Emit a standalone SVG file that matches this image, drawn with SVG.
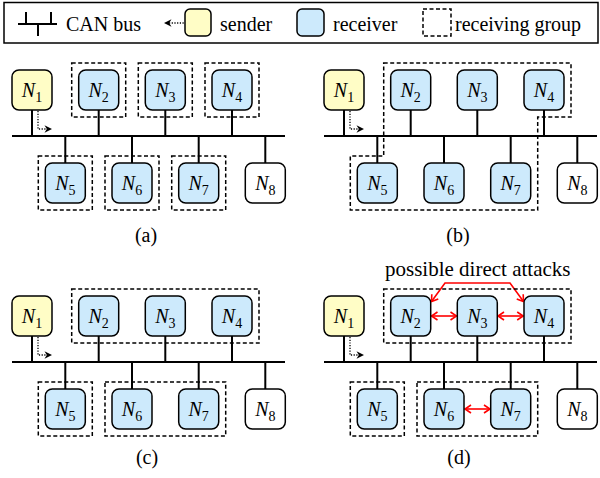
<svg xmlns="http://www.w3.org/2000/svg" width="600" height="478" viewBox="0 0 600 478">
<style>
  .lbl { font-size: 20px; }
  .nn { font-size: 20px; text-anchor: middle; }
  .nn .i { font-style: italic; }
  .nn .s { font-size: 14px; }
  .box { stroke: #000; stroke-width: 1.5; }
  .snd { fill: #FFFDC6; }
  .rcv { fill: #CDEAFC; }
  .oth { fill: #FFFFFF; }
  .grp { fill: none; stroke: #000; stroke-width: 1.5; stroke-dasharray: 4 2.5; }
  .bus { stroke: #000; stroke-width: 2; fill: none; }
  .dot { stroke: #000; stroke-width: 1.3; stroke-dasharray: 1.2 1.5; fill: none; }
  .atk { stroke: #FF0000; stroke-width: 1.6; fill: none; marker-start: url(#rh); marker-end: url(#rh); }
</style>
<defs>
  <marker id="rh" markerUnits="userSpaceOnUse" markerWidth="12" markerHeight="12" viewBox="-8 -6 10 12" refX="0" refY="0" orient="auto-start-reverse">
    <path d="M-6,-4 L0,0 L-6,4" fill="none" stroke="#FF0000" stroke-width="1.6"/>
  </marker>
  <g id="dotarrow">
    <polyline class="dot" points="38,111 38,129 47,129"/>
    <path d="M52,129 L44.5,125.2 L46.8,129 L44.5,132.8 Z" fill="#000"/>
  </g>
</defs>
<g font-family="Liberation Serif, Times New Roman, DejaVu Serif, serif" fill="#000">

<!-- Legend -->
<g id="legend">
  <rect x="4" y="2.5" width="594" height="40.5" fill="#fff" stroke="#000" stroke-width="1.5"/>
  <g class="bus" stroke-width="1.8">
    <line x1="18" y1="24" x2="57" y2="24"/>
    <line x1="26" y1="12" x2="26" y2="24"/>
    <line x1="51" y1="12" x2="51" y2="24"/>
    <line x1="38" y1="24" x2="38" y2="36"/>
  </g>
  <text class="lbl" x="66" y="30.5">CAN bus</text>
  <line class="dot" x1="169" y1="23" x2="184" y2="23"/>
  <path d="M164,23 L171.5,19.2 L169.2,23 L171.5,26.8 Z" fill="#000"/>
  <rect class="box snd" x="185" y="9" width="26" height="27" rx="5"/>
  <text class="lbl" x="220" y="30.5">sender</text>
  <rect class="box rcv" x="297" y="9" width="27" height="27" rx="5"/>
  <text class="lbl" x="333" y="30.5">receiver</text>
  <rect class="grp" x="423" y="9" width="28" height="27"/>
  <text class="lbl" x="455" y="30.5">receiving group</text>
</g>

<!-- Connectors: buses, stubs, sender arrows, attack arrows -->
<g id="connectors">
  <g id="bus-a" transform="translate(0,0)">
    <line class="bus" x1="12" y1="136" x2="285" y2="136"/>
    <line class="bus" x1="32" y1="110" x2="32" y2="136"/>
    <line class="bus" x1="98.7" y1="110" x2="98.7" y2="136"/>
    <line class="bus" x1="165.3" y1="110" x2="165.3" y2="136"/>
    <line class="bus" x1="232" y1="110" x2="232" y2="136"/>
    <line class="bus" x1="65.3" y1="136" x2="65.3" y2="163"/>
    <line class="bus" x1="132" y1="136" x2="132" y2="163"/>
    <line class="bus" x1="198.7" y1="136" x2="198.7" y2="163"/>
    <line class="bus" x1="265.3" y1="136" x2="265.3" y2="163"/>
    <use href="#dotarrow"/>
  </g>
  <g id="bus-b" transform="translate(312,0)">
    <line class="bus" x1="12" y1="136" x2="285" y2="136"/>
    <line class="bus" x1="32" y1="110" x2="32" y2="136"/>
    <line class="bus" x1="98.7" y1="110" x2="98.7" y2="136"/>
    <line class="bus" x1="165.3" y1="110" x2="165.3" y2="136"/>
    <line class="bus" x1="232" y1="110" x2="232" y2="136"/>
    <line class="bus" x1="65.3" y1="136" x2="65.3" y2="163"/>
    <line class="bus" x1="132" y1="136" x2="132" y2="163"/>
    <line class="bus" x1="198.7" y1="136" x2="198.7" y2="163"/>
    <line class="bus" x1="265.3" y1="136" x2="265.3" y2="163"/>
    <use href="#dotarrow"/>
  </g>
  <g id="bus-c" transform="translate(0,226)">
    <line class="bus" x1="12" y1="136" x2="285" y2="136"/>
    <line class="bus" x1="32" y1="110" x2="32" y2="136"/>
    <line class="bus" x1="98.7" y1="110" x2="98.7" y2="136"/>
    <line class="bus" x1="165.3" y1="110" x2="165.3" y2="136"/>
    <line class="bus" x1="232" y1="110" x2="232" y2="136"/>
    <line class="bus" x1="65.3" y1="136" x2="65.3" y2="163"/>
    <line class="bus" x1="132" y1="136" x2="132" y2="163"/>
    <line class="bus" x1="198.7" y1="136" x2="198.7" y2="163"/>
    <line class="bus" x1="265.3" y1="136" x2="265.3" y2="163"/>
    <use href="#dotarrow"/>
  </g>
  <g id="bus-d" transform="translate(312,226)">
    <line class="bus" x1="12" y1="136" x2="285" y2="136"/>
    <line class="bus" x1="32" y1="110" x2="32" y2="136"/>
    <line class="bus" x1="98.7" y1="110" x2="98.7" y2="136"/>
    <line class="bus" x1="165.3" y1="110" x2="165.3" y2="136"/>
    <line class="bus" x1="232" y1="110" x2="232" y2="136"/>
    <line class="bus" x1="65.3" y1="136" x2="65.3" y2="163"/>
    <line class="bus" x1="132" y1="136" x2="132" y2="163"/>
    <line class="bus" x1="198.7" y1="136" x2="198.7" y2="163"/>
    <line class="bus" x1="265.3" y1="136" x2="265.3" y2="163"/>
    <use href="#dotarrow"/>
  </g>
  <g id="attacks">
    <line class="atk" x1="431.5" y1="316" x2="456.5" y2="316"/>
    <line class="atk" x1="498" y1="316" x2="523.2" y2="316"/>
    <line class="atk" x1="465" y1="409" x2="490" y2="409"/>
    <polyline class="atk" points="431.5,301.5 445,283 510,283 523.5,301.5"/>
  </g>
</g>

<!-- Receiving groups -->
<g id="groups">
  <g id="groups-a">
    <rect class="grp" x="71.7" y="63" width="54" height="54"/>
    <rect class="grp" x="138.3" y="63" width="54" height="54"/>
    <rect class="grp" x="205" y="63" width="54" height="54"/>
    <rect class="grp" x="38.3" y="156" width="54" height="54"/>
    <rect class="grp" x="105" y="156" width="54" height="54"/>
    <rect class="grp" x="171.7" y="156" width="54" height="54"/>
  </g>
  <g id="groups-b">
    <polygon class="grp" points="383.7,63 571,63 571,117 537.7,117 537.7,210 350.3,210 350.3,156 383.7,156"/>
  </g>
  <g id="groups-c">
    <rect class="grp" x="71.7" y="289" width="187.3" height="54"/>
    <rect class="grp" x="38.3" y="382" width="54" height="54"/>
    <rect class="grp" x="105" y="382" width="120.7" height="54"/>
  </g>
  <g id="groups-d">
    <rect class="grp" x="383.7" y="289" width="187.3" height="54"/>
    <rect class="grp" x="350.3" y="382" width="54" height="54"/>
    <rect class="grp" x="417" y="382" width="120.7" height="54"/>
  </g>
</g>

<!-- Nodes: panel (a) -->
<g id="a-N1"><rect class="box snd" x="12" y="70" width="40" height="40" rx="7"/><text class="nn" x="32" y="97"><tspan class="i">N</tspan><tspan class="s" dy="4.5">1</tspan></text></g>
<g id="a-N2"><rect class="box rcv" x="78.7" y="70" width="40" height="40" rx="7"/><text class="nn" x="98.7" y="97"><tspan class="i">N</tspan><tspan class="s" dy="4.5">2</tspan></text></g>
<g id="a-N3"><rect class="box rcv" x="145.3" y="70" width="40" height="40" rx="7"/><text class="nn" x="165.3" y="97"><tspan class="i">N</tspan><tspan class="s" dy="4.5">3</tspan></text></g>
<g id="a-N4"><rect class="box rcv" x="212" y="70" width="40" height="40" rx="7"/><text class="nn" x="232" y="97"><tspan class="i">N</tspan><tspan class="s" dy="4.5">4</tspan></text></g>
<g id="a-N5"><rect class="box rcv" x="45.3" y="163" width="40" height="40" rx="7"/><text class="nn" x="65.3" y="190"><tspan class="i">N</tspan><tspan class="s" dy="4.5">5</tspan></text></g>
<g id="a-N6"><rect class="box rcv" x="112" y="163" width="40" height="40" rx="7"/><text class="nn" x="132" y="190"><tspan class="i">N</tspan><tspan class="s" dy="4.5">6</tspan></text></g>
<g id="a-N7"><rect class="box rcv" x="178.7" y="163" width="40" height="40" rx="7"/><text class="nn" x="198.7" y="190"><tspan class="i">N</tspan><tspan class="s" dy="4.5">7</tspan></text></g>
<g id="a-N8"><rect class="box oth" x="245.3" y="163" width="40" height="40" rx="7"/><text class="nn" x="265.3" y="190"><tspan class="i">N</tspan><tspan class="s" dy="4.5">8</tspan></text></g>

<!-- Nodes: panel (b) -->
<g id="b-N1"><rect class="box snd" x="324" y="70" width="40" height="40" rx="7"/><text class="nn" x="344" y="97"><tspan class="i">N</tspan><tspan class="s" dy="4.5">1</tspan></text></g>
<g id="b-N2"><rect class="box rcv" x="390.7" y="70" width="40" height="40" rx="7"/><text class="nn" x="410.7" y="97"><tspan class="i">N</tspan><tspan class="s" dy="4.5">2</tspan></text></g>
<g id="b-N3"><rect class="box rcv" x="457.3" y="70" width="40" height="40" rx="7"/><text class="nn" x="477.3" y="97"><tspan class="i">N</tspan><tspan class="s" dy="4.5">3</tspan></text></g>
<g id="b-N4"><rect class="box rcv" x="524" y="70" width="40" height="40" rx="7"/><text class="nn" x="544" y="97"><tspan class="i">N</tspan><tspan class="s" dy="4.5">4</tspan></text></g>
<g id="b-N5"><rect class="box rcv" x="357.3" y="163" width="40" height="40" rx="7"/><text class="nn" x="377.3" y="190"><tspan class="i">N</tspan><tspan class="s" dy="4.5">5</tspan></text></g>
<g id="b-N6"><rect class="box rcv" x="424" y="163" width="40" height="40" rx="7"/><text class="nn" x="444" y="190"><tspan class="i">N</tspan><tspan class="s" dy="4.5">6</tspan></text></g>
<g id="b-N7"><rect class="box rcv" x="490.7" y="163" width="40" height="40" rx="7"/><text class="nn" x="510.7" y="190"><tspan class="i">N</tspan><tspan class="s" dy="4.5">7</tspan></text></g>
<g id="b-N8"><rect class="box oth" x="557.3" y="163" width="40" height="40" rx="7"/><text class="nn" x="577.3" y="190"><tspan class="i">N</tspan><tspan class="s" dy="4.5">8</tspan></text></g>

<!-- Nodes: panel (c) -->
<g id="c-N1"><rect class="box snd" x="12" y="296" width="40" height="40" rx="7"/><text class="nn" x="32" y="323"><tspan class="i">N</tspan><tspan class="s" dy="4.5">1</tspan></text></g>
<g id="c-N2"><rect class="box rcv" x="78.7" y="296" width="40" height="40" rx="7"/><text class="nn" x="98.7" y="323"><tspan class="i">N</tspan><tspan class="s" dy="4.5">2</tspan></text></g>
<g id="c-N3"><rect class="box rcv" x="145.3" y="296" width="40" height="40" rx="7"/><text class="nn" x="165.3" y="323"><tspan class="i">N</tspan><tspan class="s" dy="4.5">3</tspan></text></g>
<g id="c-N4"><rect class="box rcv" x="212" y="296" width="40" height="40" rx="7"/><text class="nn" x="232" y="323"><tspan class="i">N</tspan><tspan class="s" dy="4.5">4</tspan></text></g>
<g id="c-N5"><rect class="box rcv" x="45.3" y="389" width="40" height="40" rx="7"/><text class="nn" x="65.3" y="416"><tspan class="i">N</tspan><tspan class="s" dy="4.5">5</tspan></text></g>
<g id="c-N6"><rect class="box rcv" x="112" y="389" width="40" height="40" rx="7"/><text class="nn" x="132" y="416"><tspan class="i">N</tspan><tspan class="s" dy="4.5">6</tspan></text></g>
<g id="c-N7"><rect class="box rcv" x="178.7" y="389" width="40" height="40" rx="7"/><text class="nn" x="198.7" y="416"><tspan class="i">N</tspan><tspan class="s" dy="4.5">7</tspan></text></g>
<g id="c-N8"><rect class="box oth" x="245.3" y="389" width="40" height="40" rx="7"/><text class="nn" x="265.3" y="416"><tspan class="i">N</tspan><tspan class="s" dy="4.5">8</tspan></text></g>

<!-- Nodes: panel (d) -->
<g id="d-N1"><rect class="box snd" x="324" y="296" width="40" height="40" rx="7"/><text class="nn" x="344" y="323"><tspan class="i">N</tspan><tspan class="s" dy="4.5">1</tspan></text></g>
<g id="d-N2"><rect class="box rcv" x="390.7" y="296" width="40" height="40" rx="7"/><text class="nn" x="410.7" y="323"><tspan class="i">N</tspan><tspan class="s" dy="4.5">2</tspan></text></g>
<g id="d-N3"><rect class="box rcv" x="457.3" y="296" width="40" height="40" rx="7"/><text class="nn" x="477.3" y="323"><tspan class="i">N</tspan><tspan class="s" dy="4.5">3</tspan></text></g>
<g id="d-N4"><rect class="box rcv" x="524" y="296" width="40" height="40" rx="7"/><text class="nn" x="544" y="323"><tspan class="i">N</tspan><tspan class="s" dy="4.5">4</tspan></text></g>
<g id="d-N5"><rect class="box rcv" x="357.3" y="389" width="40" height="40" rx="7"/><text class="nn" x="377.3" y="416"><tspan class="i">N</tspan><tspan class="s" dy="4.5">5</tspan></text></g>
<g id="d-N6"><rect class="box rcv" x="424" y="389" width="40" height="40" rx="7"/><text class="nn" x="444" y="416"><tspan class="i">N</tspan><tspan class="s" dy="4.5">6</tspan></text></g>
<g id="d-N7"><rect class="box rcv" x="490.7" y="389" width="40" height="40" rx="7"/><text class="nn" x="510.7" y="416"><tspan class="i">N</tspan><tspan class="s" dy="4.5">7</tspan></text></g>
<g id="d-N8"><rect class="box oth" x="557.3" y="389" width="40" height="40" rx="7"/><text class="nn" x="577.3" y="416"><tspan class="i">N</tspan><tspan class="s" dy="4.5">8</tspan></text></g>

<!-- Captions -->
<text x="385" y="276" font-size="21">possible direct attacks</text>
<text class="lbl" x="146" y="241.5" text-anchor="middle">(a)</text>
<text class="lbl" x="458" y="241.5" text-anchor="middle">(b)</text>
<text class="lbl" x="147" y="463.5" text-anchor="middle">(c)</text>
<text class="lbl" x="459" y="463.5" text-anchor="middle">(d)</text>
</g>
</svg>
